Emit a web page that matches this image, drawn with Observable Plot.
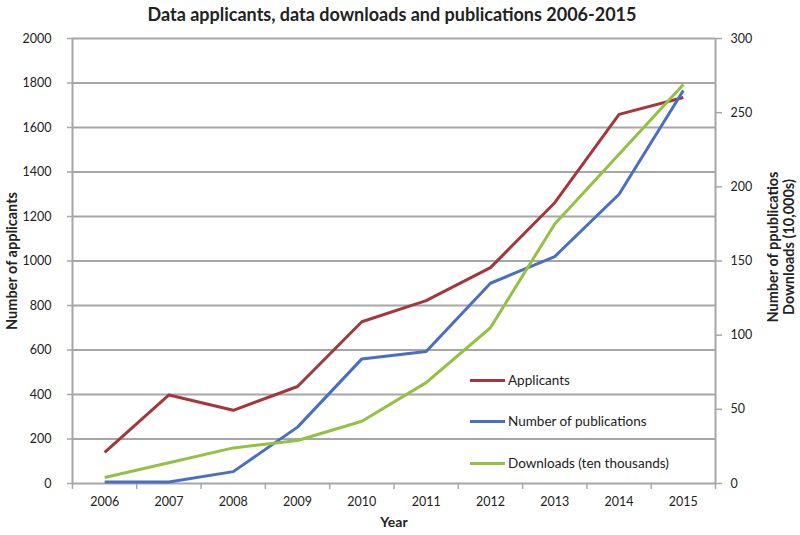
<!DOCTYPE html>
<html>
<head>
<meta charset="utf-8">
<script src="https://cdn.jsdelivr.net/npm/d3@7"></script>
<script src="https://cdn.jsdelivr.net/npm/@observablehq/plot@0.6"></script>
<style>
  html, body { margin: 0; padding: 0; background: #fff; }
  #wrap { position: relative; width: 800px; height: 535px; font-family: Lato, "Open Sans", sans-serif; color: #222; }
  #title { height: 28px; line-height: 28px; text-align: center; font-weight: bold; font-size: 18px; padding-right: 16px; }
  #legend { position: absolute; left: 470px; top: 0; font-size: 13.5px; }
  .row { position: absolute; left: 0; white-space: nowrap; display: flex; align-items: center; height: 20px; }
  .sw { display: inline-block; width: 35px; height: 3px; margin-right: 3px; }
</style>
</head>
<body>
<div id="wrap">
  <div id="title">Data applicants, data downloads and publications 2006-2015</div>
  <div id="chart"></div>
  <div id="legend"></div>
</div>
<script>
const years = [2006, 2007, 2008, 2009, 2010, 2011, 2012, 2013, 2014, 2015];
const applicants = [140, 398, 329, 436, 727, 822, 970, 1262, 1659, 1735];
const publications = [1, 1, 8, 38, 84, 89, 135, 153, 195, 265];
const downloads = [4, 14, 24, 29, 42, 68, 105, 175, 222, 269];
const leftTicks = [0, 200, 400, 600, 800, 1000, 1200, 1400, 1600, 1800, 2000];
const rightTicks = [0, 50, 100, 150, 200, 250, 300];
const seriesNames = ["Applicants", "Number of publications", "Downloads (ten thousands)"];
const seriesColors = ["#a3373b", "#4a6ec0", "#94c143"];

const leftMax = 2000, rightMax = 300;
const k = leftMax / rightMax;

const rows = [];
years.forEach((yr, i) => {
  rows.push({year: yr, series: seriesNames[0], v: applicants[i]});
  rows.push({year: yr, series: seriesNames[1], v: publications[i] * k});
  rows.push({year: yr, series: seriesNames[2], v: downloads[i] * k});
});
const bounds = years.map(y => y - 0.5).concat([years[years.length - 1] + 0.5]);
const xDomain = [bounds[0], bounds[bounds.length - 1]];
const grid = "#a6a6a6";

const chart = Plot.plot({
  width: 800,
  height: 507,
  marginTop: 10,
  marginBottom: 52,
  marginLeft: 72,
  marginRight: 85,
  style: {fontFamily: "Lato, 'Open Sans', sans-serif", fontSize: "12.5px", color: "#222", background: "white"},
  x: {type: "linear", domain: xDomain},
  y: {domain: [0, leftMax]},
  color: {domain: seriesNames, range: seriesColors},
  marks: [
    Plot.gridY(leftTicks, {stroke: grid, strokeOpacity: 1, strokeWidth: 2}),
    Plot.ruleX(xDomain, {stroke: grid, strokeWidth: 2}),
    Plot.axisY(leftTicks, {anchor: "left", tickSize: 5, tickPadding: 16, stroke: grid, strokeWidth: 1.5, tickFormat: d => String(d), label: null}),
    Plot.axisY(rightTicks.map(v => v * k), {anchor: "right", tickSize: 6, tickPadding: 9, stroke: grid, strokeWidth: 1.5, tickFormat: d => String(Math.round(d / k)), label: null}),
    Plot.axisX(bounds, {anchor: "bottom", tickSize: 6, stroke: grid, strokeWidth: 1.5, tickFormat: () => "", label: null}),
    Plot.axisX(years, {anchor: "bottom", tickSize: 0, tickPadding: 14, tickFormat: d => String(d), label: null}),
    Plot.line(rows, {x: "year", y: "v", z: "series", stroke: "series", strokeWidth: 3, strokeLinejoin: "miter", strokeLinecap: "butt"}),
    Plot.text(["Number of applicants"], {frameAnchor: "left", textAnchor: "middle", dx: -60, rotate: -90, fontWeight: "bold", fontSize: 14.5}),
    Plot.text(["Year"], {frameAnchor: "bottom", dy: 43, fontWeight: "bold", fontSize: 14}),
    Plot.text(["Number of ppublicatios\nDownloads (10,000s)"], {frameAnchor: "right", textAnchor: "middle", dx: 65, dy: -14, rotate: -90, fontWeight: "bold", fontSize: 14.5, lineHeight: 1.1})
  ]
});
document.getElementById("chart").appendChild(chart);

// Legend (inside plot area)
const legend = document.getElementById("legend");
const legendTops = [370, 411, 453];
seriesNames.forEach((name, i) => {
  const r = document.createElement("div");
  r.className = "row";
  r.style.top = legendTops[i] + "px";
  r.innerHTML = `<span class="sw" style="background:${seriesColors[i]}"></span><span>${name}</span>`;
  legend.appendChild(r);
});
</script>
</body>
</html>
